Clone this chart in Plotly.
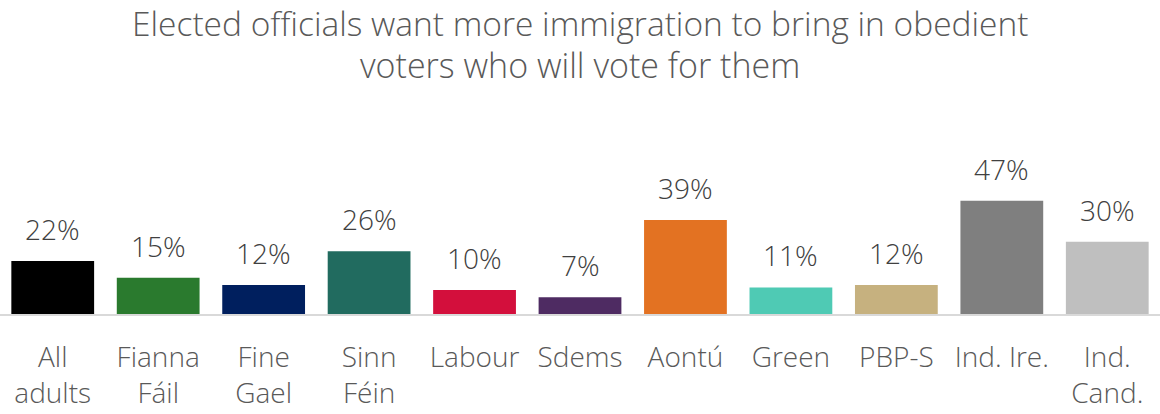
import plotly.graph_objects as go

categories = ["All<br>adults", "Fianna<br>Fáil", "Fine<br>Gael", "Sinn<br>Féin", "Labour",
              "Sdems", "Aontú", "Green", "PBP-S", "Ind. Ire.", "Ind.<br>Cand."]
values = [22, 15, 12, 26, 10, 7, 39, 11, 12, 47, 30]
labels = [f"{v}%" for v in values]
colors = ["#000000", "#2A7A2E", "#001F5E", "#216B5F", "#D30F3C", "#4E2B62",
          "#E37222", "#4FCAB4", "#C6B17F", "#7F7F7F", "#BFBFBF"]

title_lines = ["Elected officials want more immigration to bring in obedient",
               "voters who will vote for them"]
FONT = "Open Sans"

W, H = 1160, 414
T, B = 128, 100
plot_h = H - T - B

fig = go.Figure()
fig.add_trace(go.Bar(
    x=categories, y=values, marker=dict(color=colors, line=dict(width=0)),
    hoverinfo="skip",
))

for c, v, t in zip(categories, values, labels):
    fig.add_annotation(x=c, y=v, text=t, showarrow=False, yanchor="bottom", yshift=11,
                       font=dict(family=FONT, size=28, color="#404040", weight=300))

for line, fy, fs in zip(title_lines, [23, 65], [33.5, 34]):
    fig.add_annotation(xref="paper", yref="paper", x=0.5, y=(H - B - fy) / plot_h,
                       xanchor="center", yanchor="middle", showarrow=False, text=line,
                       font=dict(family=FONT, size=fs, color="#595959", weight=300))

fig.update_layout(
    width=W, height=H,
    margin=dict(l=0, r=0, t=T, b=B),
    paper_bgcolor="white", plot_bgcolor="white",
    bargap=0.215,
    showlegend=False,
    xaxis=dict(showline=True, linecolor="#D9D9D9", linewidth=2, ticks="",
               range=[-0.5, 10.5], automargin=False, ticklabelstandoff=17,
               tickfont=dict(family=FONT, size=28, color="#595959", weight=300),
               showgrid=False),
    yaxis=dict(range=[0, plot_h / 2.41], visible=False, showgrid=False, automargin=False),
)

fig.write_html("out.html", config={"displayModeBar": False},
               post_script="document.body.style.margin='0';")
